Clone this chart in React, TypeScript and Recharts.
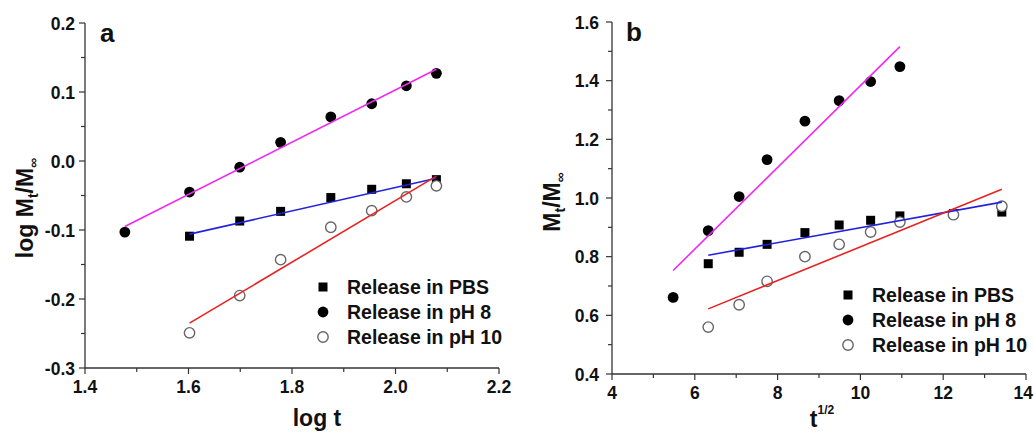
import React from "react";
import { ScatterChart, Scatter, XAxis, YAxis } from "recharts";

// ---- Panel a data (log t vs log Mt/M∞) ----
const xA_pH8 = [1.477, 1.602, 1.699, 1.778, 1.875, 1.954, 2.021, 2.079];
const yA_pH8 = [-0.103, -0.045, -0.009, 0.027, 0.064, 0.083, 0.109, 0.127];
const xA_PBS = [1.602, 1.699, 1.778, 1.875, 1.954, 2.021, 2.079];
const yA_PBS = [-0.109, -0.087, -0.073, -0.053, -0.041, -0.033, -0.027];
const xA_pH10 = [1.602, 1.699, 1.778, 1.875, 1.954, 2.021, 2.079];
const yA_pH10 = [-0.249, -0.195, -0.143, -0.096, -0.072, -0.052, -0.036];
// fitted lines (end points)
const fitA_pH8_x = [1.477, 2.079];
const fitA_pH8_y = [-0.095, 0.133];
const fitA_PBS_x = [1.602, 2.079];
const fitA_PBS_y = [-0.106, -0.025];
const fitA_pH10_x = [1.602, 2.079];
const fitA_pH10_y = [-0.235, -0.022];

// ---- Panel b data (t^1/2 vs Mt/M∞) ----
const xB_pH8 = [5.477, 6.325, 7.071, 7.746, 8.66, 9.487, 10.247, 10.954];
const yB_pH8 = [0.661, 0.889, 1.005, 1.131, 1.262, 1.332, 1.397, 1.448];
const xB_PBS = [6.325, 7.071, 7.746, 8.66, 9.487, 10.247, 10.954, 12.247, 13.416];
const yB_PBS = [0.776, 0.815, 0.842, 0.882, 0.908, 0.924, 0.939, 0.947, 0.952];
const xB_pH10 = [6.325, 7.071, 7.746, 8.66, 9.487, 10.247, 10.954, 12.247, 13.416];
const yB_pH10 = [0.56, 0.636, 0.716, 0.8, 0.842, 0.884, 0.918, 0.943, 0.972];
const fitB_pH8_x = [5.477, 10.954];
const fitB_pH8_y = [0.753, 1.516];
const fitB_PBS_x = [6.325, 13.416];
const fitB_PBS_y = [0.805, 0.986];
const fitB_pH10_x = [6.325, 13.416];
const fitB_pH10_y = [0.622, 1.03];

// ---- ticks ----
const ticksAX = [1.4, 1.5, 1.6, 1.7, 1.8, 1.9, 2.0, 2.1, 2.2];
const ticksAY = [-0.3, -0.25, -0.2, -0.15, -0.1, -0.05, 0.0, 0.05, 0.1, 0.15, 0.2];
const ticksBX = [4, 5, 6, 7, 8, 9, 10, 11, 12, 13, 14];
const ticksBY = [0.4, 0.5, 0.6, 0.7, 0.8, 0.9, 1.0, 1.1, 1.2, 1.3, 1.4, 1.5, 1.6];

const seriesNames = ["Release in PBS", "Release in pH 8", "Release in pH 10"];

const pts = (xs: number[], ys: number[]) => ys.map((y, i) => ({ x: xs[i], y }));

const FONT = "'Liberation Sans', Arial, Helvetica, sans-serif";
const AXIS = "#333";
const MAGENTA = "#f028f0";
const BLUE = "#2222dd";
const RED = "#e82222";

const Square = (p: any) => <rect x={p.cx - 4.5} y={p.cy - 4.5} width={9} height={9} fill="#000" />;
const Dot = (p: any) => <circle cx={p.cx} cy={p.cy} r={5.4} fill="#000" />;
const Open = (p: any) => <circle cx={p.cx} cy={p.cy} r={5.2} fill="#fff" stroke="#666" strokeWidth={1.4} />;
const NoShape = () => <g />;

const isMajor = (v: number, step: number) => Math.abs(v / step - Math.round(v / step)) < 1e-6;

const makeXTick = (step: number, fmt: (v: number) => string, maxX: number) => (props: any) => {
  const { x, y, payload } = props;
  const major = isMajor(payload.value, step);
  const label = fmt(payload.value);
  const halfW = label.length * 5;
  const overflow = x + halfW > maxX;
  return (
    <g>
      <line x1={x} y1={y} x2={x} y2={y + (major ? 6 : 4)} stroke={AXIS} strokeWidth={1.2} />
      {major && (
        <text
          x={overflow ? maxX : x}
          y={y + 25}
          textAnchor={overflow ? "end" : "middle"}
          fontFamily={FONT}
          fontWeight="bold"
          fontSize={17.5}
          fill="#111"
        >
          {label}
        </text>
      )}
    </g>
  );
};

const makeYTick = (step: number, fmt: (v: number) => string, gap: number) => (props: any) => {
  const { x, y, payload } = props;
  const major = isMajor(payload.value, step);
  return (
    <g>
      <line x1={x} y1={y} x2={x - (major ? 6 : 4)} y2={y} stroke={AXIS} strokeWidth={1.2} />
      {major && (
        <text x={x - gap} y={y + 6.5} textAnchor="end" fontFamily={FONT} fontWeight="bold" fontSize={17.5} fill="#111">
          {fmt(payload.value)}
        </text>
      )}
    </g>
  );
};

const LegendBox = ({ mx, tx, ys }: { mx: number; tx: number; ys: number[] }) => {
  const shapes = [
    <rect key="s" x={mx - 4.5} y={ys[0] - 4.5} width={9} height={9} fill="#000" />,
    <circle key="c" cx={mx} cy={ys[1]} r={5.4} fill="#000" />,
    <circle key="o" cx={mx} cy={ys[2]} r={5.2} fill="#fff" stroke="#666" strokeWidth={1.4} />,
  ];
  return (
    <svg width={520} height={433} style={{ position: "absolute", left: 0, top: 0, pointerEvents: "none" }}>
      {shapes}
      {seriesNames.map((n, i) => (
        <text key={n} x={tx} y={ys[i] + 7} fontFamily={FONT} fontWeight="bold" fontSize={19.5} fill="#111">
          {n}
        </text>
      ))}
    </svg>
  );
};

const PanelA = () => (
  <div style={{ position: "absolute", left: 0, top: 0, width: 520, height: 433 }}>
    <ScatterChart width={520} height={433} margin={{ top: 23, right: 21, bottom: 35, left: 25 }}>
      <XAxis
        type="number"
        dataKey="x"
        domain={[1.4, 2.2]}
        ticks={ticksAX}
        interval={0}
        allowDataOverflow
        height={30}
        tickSize={0}
        tickMargin={0}
        tickLine={false}
        axisLine={{ stroke: AXIS, strokeWidth: 1.3 }}
        tick={makeXTick(0.2, (v) => v.toFixed(1), 519)}
      />
      <YAxis
        type="number"
        dataKey="y"
        domain={[-0.3, 0.2]}
        ticks={ticksAY}
        interval={0}
        allowDataOverflow
        width={60}
        tickSize={0}
        tickMargin={0}
        tickLine={false}
        axisLine={{ stroke: AXIS, strokeWidth: 1.3 }}
        tick={makeYTick(0.1, (v) => v.toFixed(1), 10)}
      />
      <Scatter name="PBS" data={pts(xA_PBS, yA_PBS)} shape={Square} isAnimationActive={false} legendType="none" />
      <Scatter name="pH8" data={pts(xA_pH8, yA_pH8)} shape={Dot} isAnimationActive={false} legendType="none" />
      <Scatter name="pH10" data={pts(xA_pH10, yA_pH10)} shape={Open} isAnimationActive={false} legendType="none" />
      <Scatter data={pts(fitA_pH8_x, fitA_pH8_y)} line={{ stroke: MAGENTA, strokeWidth: 1.6 }} shape={NoShape} isAnimationActive={false} legendType="none" />
      <Scatter data={pts(fitA_PBS_x, fitA_PBS_y)} line={{ stroke: BLUE, strokeWidth: 1.6 }} shape={NoShape} isAnimationActive={false} legendType="none" />
      <Scatter data={pts(fitA_pH10_x, fitA_pH10_y)} line={{ stroke: RED, strokeWidth: 1.6 }} shape={NoShape} isAnimationActive={false} legendType="none" />
    </ScatterChart>
    <svg width={520} height={433} style={{ position: "absolute", left: 0, top: 0, pointerEvents: "none" }}>
      <text x={100} y={42} fontFamily={FONT} fontWeight="bold" fontSize={26} fill="#111">a</text>
      <text x={317} y={426} textAnchor="middle" fontFamily={FONT} fontWeight="bold" fontSize={23} fill="#111">log t</text>
      <text x={33} y={208} textAnchor="middle" transform="rotate(-90 33 208)" fontFamily={FONT} fontWeight="bold" fontSize={23} fill="#111">
        log M<tspan fontSize={14} dy={5}>t</tspan>
        <tspan dy={-5}>/M</tspan>
        <tspan fontSize={14} dy={5}>∞</tspan>
      </text>
    </svg>
    <LegendBox mx={323} tx={347} ys={[287, 312, 337]} />
  </div>
);

const PanelB = () => (
  <div style={{ position: "absolute", left: 520, top: 0, width: 514, height: 433 }}>
    <ScatterChart width={514} height={433} margin={{ top: 22, right: 8, bottom: 29, left: 32 }}>
      <XAxis
        type="number"
        dataKey="x"
        domain={[4, 14]}
        ticks={ticksBX}
        interval={0}
        allowDataOverflow
        height={30}
        tickSize={0}
        tickMargin={0}
        tickLine={false}
        axisLine={{ stroke: AXIS, strokeWidth: 1.3 }}
        tick={makeXTick(2, (v) => String(Math.round(v)), 513)}
      />
      <YAxis
        type="number"
        dataKey="y"
        domain={[0.4, 1.6]}
        ticks={ticksBY}
        interval={0}
        allowDataOverflow
        width={60}
        tickSize={0}
        tickMargin={0}
        tickLine={false}
        axisLine={{ stroke: AXIS, strokeWidth: 1.3 }}
        tick={makeYTick(0.2, (v) => v.toFixed(1), 13)}
      />
      <Scatter name="PBS" data={pts(xB_PBS, yB_PBS)} shape={Square} isAnimationActive={false} legendType="none" />
      <Scatter name="pH8" data={pts(xB_pH8, yB_pH8)} shape={Dot} isAnimationActive={false} legendType="none" />
      <Scatter name="pH10" data={pts(xB_pH10, yB_pH10)} shape={Open} isAnimationActive={false} legendType="none" />
      <Scatter data={pts(fitB_pH8_x, fitB_pH8_y)} line={{ stroke: MAGENTA, strokeWidth: 1.6 }} shape={NoShape} isAnimationActive={false} legendType="none" />
      <Scatter data={pts(fitB_PBS_x, fitB_PBS_y)} line={{ stroke: BLUE, strokeWidth: 1.6 }} shape={NoShape} isAnimationActive={false} legendType="none" />
      <Scatter data={pts(fitB_pH10_x, fitB_pH10_y)} line={{ stroke: RED, strokeWidth: 1.6 }} shape={NoShape} isAnimationActive={false} legendType="none" />
    </ScatterChart>
    <svg width={514} height={433} style={{ position: "absolute", left: 0, top: 0, pointerEvents: "none" }}>
      <text x={106} y={41} fontFamily={FONT} fontWeight="bold" fontSize={26} fill="#111">b</text>
      <text x={302} y={427} textAnchor="middle" fontFamily={FONT} fontWeight="bold" fontSize={23} fill="#111">
        t<tspan fontSize={12} dy={-13}>1/2</tspan>
      </text>
      <text x={40} y={202} textAnchor="middle" transform="rotate(-90 40 202)" fontFamily={FONT} fontWeight="bold" fontSize={23} fill="#111">
        M<tspan fontSize={14} dy={5}>t</tspan>
        <tspan dy={-5}>/M</tspan>
        <tspan fontSize={14} dy={5}>∞</tspan>
      </text>
    </svg>
    <LegendBox mx={328} tx={352} ys={[295, 320, 345]} />
  </div>
);

export default function App() {
  return (
    <div style={{ position: "absolute", left: 0, top: 0, width: 1034, height: 433, background: "#fff", overflow: "hidden" }}>
      <PanelA />
      <PanelB />
    </div>
  );
}
